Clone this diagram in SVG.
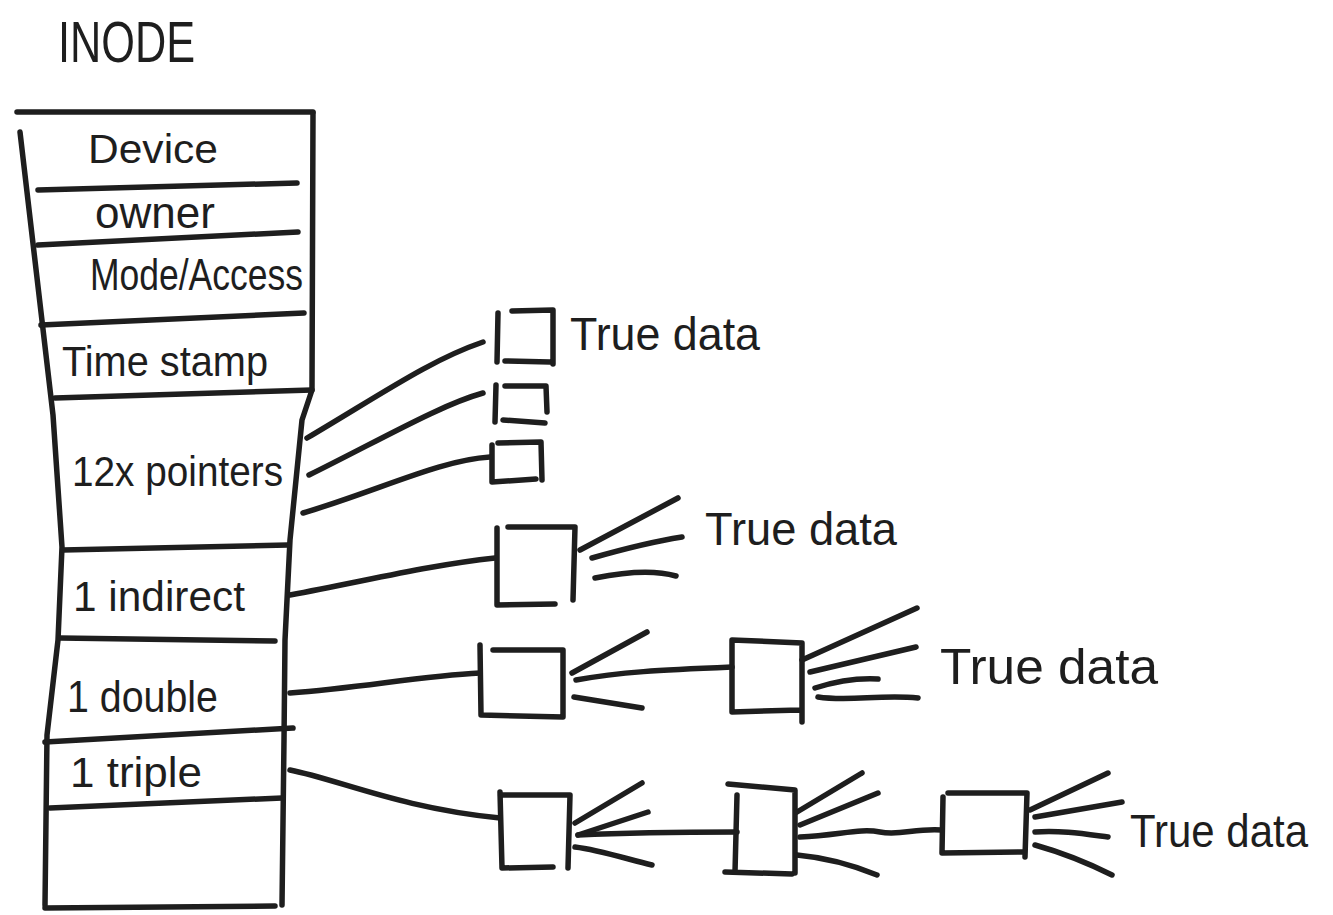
<svg xmlns="http://www.w3.org/2000/svg" width="1333" height="915" viewBox="0 0 1333 915">
<style>
.s{fill:none;stroke:#1e1e1e;stroke-width:5.5;stroke-linecap:round;stroke-linejoin:round}
.t{font-family:"Liberation Sans","DejaVu Sans",sans-serif;fill:#1e1e1e}
</style>
<rect width="1333" height="915" fill="#ffffff"/>
<g id="title">
<text class="t" x="58" y="62" font-size="58" textLength="137" lengthAdjust="spacingAndGlyphs">INODE</text>
</g>
<g id="inode">
<path class="s" d="M17,112 L313,112"/>
<path class="s" d="M20,132 L53,415 L62,547 L58,640 L47,735 L45,905"/>
<path class="s" d="M313,113 L312,390 L302,420 L290,540 L285,640 L284,740 L282,905"/>
<path class="s" d="M45,908 L275,906"/>
<path class="s" d="M38,190 L297,183"/>
<path class="s" d="M38,245 L298,232"/>
<path class="s" d="M41,325 L304,313"/>
<path class="s" d="M55,398 L312,390"/>
<path class="s" d="M63,550 L288,545"/>
<path class="s" d="M60,638 L275,641"/>
<path class="s" d="M45,742 L293,728"/>
<path class="s" d="M50,808 L282,798"/>
<text class="t" x="88" y="163" font-size="40" textLength="130" lengthAdjust="spacingAndGlyphs">Device</text>
<text class="t" x="95" y="228" font-size="44" textLength="120" lengthAdjust="spacingAndGlyphs">owner</text>
<text class="t" x="90" y="290" font-size="44" textLength="213" lengthAdjust="spacingAndGlyphs">Mode/Access</text>
<text class="t" x="62" y="376" font-size="42" textLength="206" lengthAdjust="spacingAndGlyphs">Time stamp</text>
<text class="t" x="72" y="486" font-size="42" textLength="211" lengthAdjust="spacingAndGlyphs">12x pointers</text>
<text class="t" x="73" y="611" font-size="42" textLength="172" lengthAdjust="spacingAndGlyphs">1 indirect</text>
<text class="t" x="67" y="712" font-size="44" textLength="151" lengthAdjust="spacingAndGlyphs">1 double</text>
<text class="t" x="70" y="787" font-size="42" textLength="132" lengthAdjust="spacingAndGlyphs">1 triple</text>
</g>
<g id="direct-block-1">
<path class="s" d="M498,313 L497,362 M512,311 L553,310 L553,364 M505,361 L550,362"/>
<text class="t" x="570" y="350" font-size="46" textLength="190" lengthAdjust="spacingAndGlyphs">True data</text>
</g>
<g id="direct-block-2">
<path class="s" d="M496,385 L495,422 M505,386 L546,386 L547,412 M503,420 L545,423"/>
</g>
<g id="direct-block-3">
<path class="s" d="M492,445 L492,482 L536,479 M498,443 L541,442 L542,480"/>
</g>
<g id="indirect-block">
<path class="s" d="M497,528 L497,605 L555,604 M508,527 L575,527 L573,600"/>
<text class="t" x="705" y="545" font-size="46" textLength="192" lengthAdjust="spacingAndGlyphs">True data</text>
</g>
<g id="double-block-1">
<path class="s" d="M480,645 L481,715 L563,717 L563,650 L493,650"/>
</g>
<g id="double-block-2">
<path class="s" d="M732,640 L802,643 L802,722 M732,640 L732,712 L800,710"/>
<text class="t" x="940" y="684" font-size="50" textLength="218" lengthAdjust="spacingAndGlyphs">True  data</text>
</g>
<g id="triple-block-1">
<path class="s" d="M500,792 L502,868 L553,867 M500,795 L570,795 L568,868"/>
</g>
<g id="triple-block-2">
<path class="s" d="M728,784 L795,790 L795,873 M737,795 L735,872 M725,872 L792,874"/>
</g>
<g id="triple-block-3">
<path class="s" d="M943,797 L942,853 L1025,852 M948,793 L1027,793 L1025,857"/>
<text class="t" x="1130" y="847" font-size="46" textLength="178" lengthAdjust="spacingAndGlyphs">True data</text>
</g>
<g id="connectors">
<path class="s" d="M307,438 C380,395 430,360 483,342"/>
<path class="s" d="M309,475 C380,440 440,405 483,393"/>
<path class="s" d="M303,513 C380,490 440,460 490,457"/>
<path class="s" d="M290,595 C370,580 430,565 495,558"/>
<path class="s" d="M290,693 C360,688 420,676 480,673"/>
<path class="s" d="M290,770 C340,780 400,808 500,818"/>
<path class="s" d="M580,550 L678,498"/>
<path class="s" d="M592,558 C620,550 650,542 682,537"/>
<path class="s" d="M595,578 C625,572 655,570 676,576"/>
<path class="s" d="M572,673 L647,632"/>
<path class="s" d="M576,680 C620,672 660,670 732,667"/>
<path class="s" d="M574,697 L642,708"/>
<path class="s" d="M802,660 L917,608"/>
<path class="s" d="M810,672 L916,647"/>
<path class="s" d="M815,688 C840,680 860,678 878,679"/>
<path class="s" d="M818,697 C850,702 880,694 918,698"/>
<path class="s" d="M575,823 L642,783"/>
<path class="s" d="M578,835 L648,812"/>
<path class="s" d="M578,835 C620,833 680,832 737,832"/>
<path class="s" d="M575,847 C600,850 630,860 652,865"/>
<path class="s" d="M797,812 L862,773"/>
<path class="s" d="M800,825 L878,793"/>
<path class="s" d="M800,837 C840,835 860,828 880,832 C900,836 915,828 942,830"/>
<path class="s" d="M797,855 C830,858 855,866 877,875"/>
<path class="s" d="M1030,810 L1108,773"/>
<path class="s" d="M1035,817 L1122,802"/>
<path class="s" d="M1035,832 C1060,830 1085,834 1108,837"/>
<path class="s" d="M1035,845 C1060,852 1090,864 1112,875"/>
</g>
</svg>
